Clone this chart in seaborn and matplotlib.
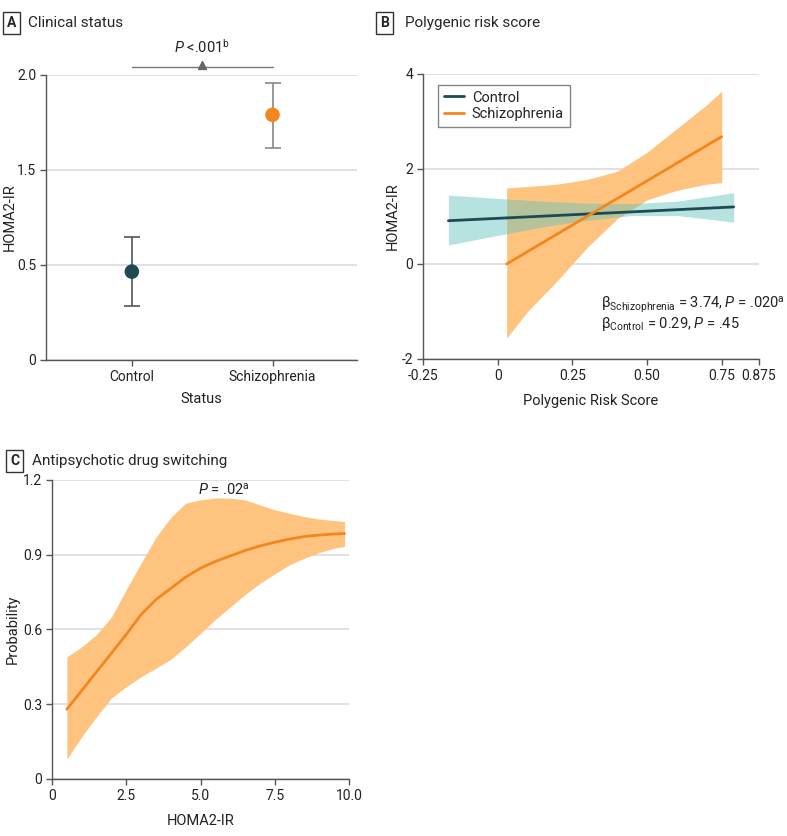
import matplotlib
matplotlib.use("Agg")
import matplotlib.pyplot as plt
import pandas as pd
import seaborn as sns

# ---- panel A: clinical status ----
status = ["Control", "Schizophrenia"]
homa_mean = [0.62, 1.72]
homa_lo = [0.38, 1.49]
homa_hi = [0.86, 1.94]
a_tick_pos = [0, 2 / 3, 4 / 3, 2.0]
a_tick_lab = ["0", "0.5", "1.5", "2.0"]

# ---- panel B: polygenic risk score ----
ctrl_x = [-0.165, 0.79]
ctrl_y = [0.91, 1.20]
ctrl_band_x = [-0.165, 0.0, 0.15, 0.30, 0.45, 0.60, 0.79]
ctrl_band_hi = [1.45, 1.38, 1.32, 1.28, 1.27, 1.32, 1.50]
ctrl_band_lo = [0.40, 0.60, 0.78, 0.92, 1.02, 1.02, 0.88]

scz_x = [0.03, 0.75]
scz_y = [0.0, 2.68]
scz_band_x = [0.03, 0.10, 0.20, 0.30, 0.40, 0.50, 0.60, 0.70, 0.75]
scz_band_hi = [1.60, 1.63, 1.68, 1.78, 1.95, 2.35, 2.85, 3.35, 3.64]
scz_band_lo = [-1.56, -1.00, -0.35, 0.35, 0.95, 1.35, 1.55, 1.68, 1.71]

b_xticks = [-0.25, 0, 0.25, 0.50, 0.75, 0.875]
b_xlabels = ["-0.25", "0", "0.25", "0.50", "0.75", "0.875"]
b_yticks = [-2, 0, 2, 4]

# ---- panel C: antipsychotic drug switching ----
homa_x = [0.5, 1.0, 1.5, 2.0, 2.5, 3.0, 3.5, 4.0, 4.5, 5.0, 5.5, 6.0, 6.5,
          7.0, 7.5, 8.0, 8.5, 9.0, 9.5, 9.85]
prob = [0.28, 0.355, 0.43, 0.505, 0.58, 0.66, 0.72, 0.765, 0.81, 0.846,
        0.873, 0.895, 0.917, 0.935, 0.95, 0.963, 0.973, 0.979, 0.983, 0.985]
prob_hi = [0.49, 0.53, 0.58, 0.65, 0.76, 0.866, 0.97, 1.05, 1.107, 1.12,
           1.128, 1.127, 1.12, 1.10, 1.08, 1.066, 1.053, 1.043, 1.037, 1.033]
prob_lo = [0.08, 0.17, 0.25, 0.325, 0.37, 0.41, 0.445, 0.48, 0.53, 0.585,
           0.64, 0.69, 0.74, 0.785, 0.823, 0.86, 0.886, 0.909, 0.926, 0.933]

TEAL = "#1d4a55"
ORANGE = "#f3861f"
BAND_ORANGE = "#fec47f"
BAND_TEAL = "#5fc0ba"
GRID = "#dcdcdc"
SPINE = "#555555"
TEXT = "#222222"

sns.set_theme(style="white")
plt.rcParams["font.family"] = ["Roboto", "DejaVu Sans"]
plt.rcParams["mathtext.fontset"] = "custom"
plt.rcParams["mathtext.rm"] = "Roboto"
plt.rcParams["mathtext.it"] = "Roboto:italic"
plt.rcParams["mathtext.bf"] = "Roboto:bold"
plt.rcParams["font.size"] = 10
plt.rcParams["xtick.labelsize"] = 10
plt.rcParams["ytick.labelsize"] = 10
plt.rcParams["axes.labelsize"] = 10.5
plt.rcParams["axes.labelcolor"] = TEXT
plt.rcParams["xtick.color"] = TEXT
plt.rcParams["ytick.color"] = TEXT

fig = plt.figure(figsize=(7.87, 8.36), dpi=100)
ax_a = fig.add_axes([0.0585, 0.5694, 0.395, 0.341])
ax_b = fig.add_axes([0.5375, 0.5706, 0.427, 0.341])
ax_c = fig.add_axes([0.0661, 0.0682, 0.3774, 0.3577])


def style_axes(ax):
    for s in ["top", "right"]:
        ax.spines[s].set_visible(False)
    ax.spines["left"].set_color(SPINE)
    ax.spines["bottom"].set_color(SPINE)
    ax.spines["left"].set_linewidth(1)
    ax.spines["bottom"].set_linewidth(1)
    ax.tick_params(axis="both", direction="out", length=4, width=1,
                   color=SPINE, pad=3, bottom=True, left=True)
    ax.grid(axis="y", color=GRID, linewidth=1.2)
    ax.set_axisbelow(True)


# ---- A ----
df_a = pd.DataFrame({"status": status, "homa": homa_mean})
style_axes(ax_a)
for i, s in enumerate(status):
    ax_a.errorbar(i, homa_mean[i],
                  yerr=[[homa_mean[i] - homa_lo[i]], [homa_hi[i] - homa_mean[i]]],
                  fmt="none", ecolor="#555555" if i == 0 else "#888888",
                  elinewidth=1.2, capsize=6, capthick=1.2, zorder=2)
sns.scatterplot(data=df_a, x=[0, 1], y="homa", hue="status",
                palette=[TEAL, ORANGE], s=110, edgecolor="none",
                legend=False, ax=ax_a, zorder=3)
ax_a.set_xlim(-0.61, 1.6)
ax_a.set_ylim(0, 2.0)
ax_a.set_xticks([0, 1])
ax_a.set_xticklabels(status)
ax_a.set_yticks(a_tick_pos)
ax_a.set_yticklabels(a_tick_lab)
ax_a.set_xlabel("Status", labelpad=6)
ax_a.set_ylabel("HOMA2-IR")
ax_a.yaxis.set_label_coords(-0.094, 0.5)
ax_a.plot([0, 1], [2.056, 2.056], color="#777777", lw=1, clip_on=False)
ax_a.plot([0.5], [2.072], marker="^", color="#666666", ms=5.5, clip_on=False)
ax_a.text(0.5, 2.196, r"$\it{P}$ <.001$^{\mathrm{b}}$", ha="center", va="center",
          fontsize=10.5, color=TEXT)

# ---- B ----
style_axes(ax_b)
ax_b.fill_between(scz_band_x, scz_band_lo, scz_band_hi, color=BAND_ORANGE,
                  lw=0, zorder=1)
ax_b.fill_between(ctrl_band_x, ctrl_band_lo, ctrl_band_hi, color=BAND_TEAL,
                  alpha=0.45, lw=0, zorder=1.5)
lines_b = pd.DataFrame({
    "prs": ctrl_x + scz_x,
    "homa": ctrl_y + scz_y,
    "group": ["Control"] * 2 + ["Schizophrenia"] * 2,
})
sns.lineplot(data=lines_b, x="prs", y="homa", hue="group",
             palette=[TEAL, ORANGE], lw=2, ax=ax_b, zorder=3)
ax_b.set_xlim(-0.25, 0.875)
ax_b.set_ylim(-2, 4)
ax_b.set_xticks(b_xticks)
ax_b.set_xticklabels(b_xlabels)
ax_b.set_yticks(b_yticks)
ax_b.set_yticklabels([str(t) for t in b_yticks])
ax_b.set_xlabel("Polygenic Risk Score", labelpad=8)
ax_b.set_ylabel("HOMA2-IR")
ax_b.yaxis.set_label_coords(-0.07, 0.5)
leg = ax_b.legend(title=None, loc="upper left", bbox_to_anchor=(0.045, 0.962),
                  frameon=True, fancybox=False, fontsize=10.5, handlelength=1.4,
                  borderpad=0.4, labelspacing=0.15, handletextpad=0.5,
                  borderaxespad=0)
leg.get_frame().set_edgecolor("#666666")
leg.get_frame().set_linewidth(1)
ax_b.text(0.345, -0.86,
          r"β$_{\mathrm{Schizophrenia}}$ = 3.74, $\it{P}$ = .020$^{\mathrm{a}}$",
          fontsize=10.5, color=TEXT, va="center")
ax_b.text(0.345, -1.26, r"β$_{\mathrm{Control}}$ = 0.29, $\it{P}$ = .45",
          fontsize=10.5, color=TEXT, va="center")

# ---- C ----
style_axes(ax_c)
ax_c.fill_between(homa_x, prob_lo, prob_hi, color=BAND_ORANGE, lw=0, zorder=1)
df_c = pd.DataFrame({"homa": homa_x, "prob": prob})
sns.lineplot(data=df_c, x="homa", y="prob", color=ORANGE, lw=2, ax=ax_c,
             zorder=3)
ax_c.set_xlim(0, 10)
ax_c.set_ylim(0, 1.2)
ax_c.set_xticks([0, 2.5, 5.0, 7.5, 10.0])
ax_c.set_xticklabels(["0", "2.5", "5.0", "7.5", "10.0"])
ax_c.set_yticks([0, 0.3, 0.6, 0.9, 1.2])
ax_c.set_yticklabels(["0", "0.3", "0.6", "0.9", "1.2"])
ax_c.set_xlabel("HOMA2-IR", labelpad=8)
ax_c.set_ylabel("Probability")
ax_c.yaxis.set_label_coords(-0.11, 0.5)
ax_c.text(5.8, 1.163, r"$\it{P}$ = .02$^{\mathrm{a}}$", ha="center",
          va="center", fontsize=10.5, color=TEXT)

# ---- panel headers ----
box = dict(boxstyle="square,pad=0.3", fc="white", ec="#333333", lw=1)
fig.text(0.0145, 0.9725, "A", fontsize=10, fontweight="bold", ha="center",
         va="center", bbox=box)
fig.text(0.036, 0.9725, "Clinical status", fontsize=11, va="center")
fig.text(0.4885, 0.9725, "B", fontsize=10, fontweight="bold", ha="center",
         va="center", bbox=box)
fig.text(0.515, 0.9725, "Polygenic risk score", fontsize=11, va="center")
fig.text(0.0185, 0.4483, "C", fontsize=10, fontweight="bold", ha="center",
         va="center", bbox=box)
fig.text(0.041, 0.4483, "Antipsychotic drug switching", fontsize=11,
         va="center")

fig.savefig("out.png", dpi=100)
